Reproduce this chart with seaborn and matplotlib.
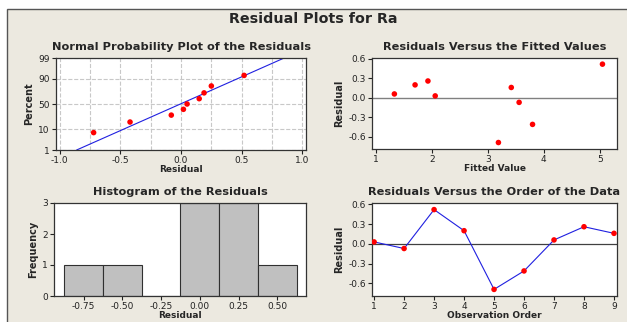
import matplotlib
matplotlib.use("Agg")
import matplotlib.pyplot as plt
import matplotlib.patches as patches
import seaborn as sns
import pandas as pd
from statistics import NormalDist

# ── data ──────────────────────────────────────────────────
order     = [1, 2, 3, 4, 5, 6, 7, 8, 9]
residuals = [0.03, -0.07, 0.52, 0.20, -0.69, -0.41, 0.06, 0.26, 0.16]
fitted    = [2.06, 3.56, 5.05, 1.70, 3.19, 3.80, 1.33, 1.93, 3.42]

prob_resid = [-0.72, -0.42, -0.08, 0.02, 0.05, 0.15, 0.19, 0.25, 0.52]
prob_pct   = [7.4, 18.1, 28.7, 39.4, 50.0, 60.6, 71.3, 81.9, 92.6]
line_resid = [-0.86, 0.85]
line_pct   = [1, 99]
pct_ticks  = [1, 10, 50, 90, 99]

hist_edges = [-0.875, -0.625, -0.375, -0.125, 0.125, 0.375, 0.625]
hist_ticks = [-0.75, -0.50, -0.25, 0.00, 0.25, 0.50]

sns.set_theme(style="white")
plt.rcParams['font.family'] = ['DejaVu Sans']
plt.rcParams['axes.unicode_minus'] = False

BG = '#ECE9E0'
z = lambda p: NormalDist().inv_cdf(p / 100.0)

fig = plt.figure(figsize=(6.27, 3.22), dpi=100, facecolor='white')
fig.patches.append(patches.Rectangle((7/627, -0.02), 1.0, (322-9)/322 + 0.02,
                                     transform=fig.transFigure, facecolor=BG,
                                     edgecolor='#555555', lw=1.0, zorder=-10))
fig.text(0.5, 0.94, 'Residual Plots for Ra', ha='center', va='center',
         fontsize=10.3, fontweight='bold')

W, H = 627, 322
def make_ax(l, t, r, b):
    return fig.add_axes([l/W, 1 - b/H, (r-l)/W, (b-t)/H])

ax1 = make_ax(56, 58, 306, 150)
ax2 = make_ax(372, 58, 617, 149)
ax3 = make_ax(54, 203, 306, 296)
ax4 = make_ax(372, 203, 617, 296)

def style(ax, title, xlabel, ylabel):
    ax.set_facecolor('white')
    for s in ax.spines.values():
        s.set_color('#333333'); s.set_linewidth(0.9)
    ax.tick_params(axis='both', which='both', direction='out', length=3, width=0.8,
                   labelsize=6.5, pad=1.5, colors='#222222', bottom=True, left=True)
    ax.set_title(title, fontsize=8.2, fontweight='bold', pad=6)
    ax.set_xlabel(xlabel, fontsize=6.5, fontweight='bold', labelpad=0)
    ax.set_ylabel(ylabel, fontsize=7, fontweight='bold', labelpad=3,
                  family=['Liberation Sans Narrow', 'DejaVu Sans Condensed', 'DejaVu Sans'])

# ── 1. normal probability plot ─────────────────────────────
npp = pd.DataFrame({'resid': prob_resid, 'z': [z(p) for p in prob_pct]})
for gx in [-1.0, -0.75, -0.5, -0.25, 0.0, 0.25, 0.5, 0.75, 1.0]:
    ax1.axvline(gx, color='#C8C8C8', ls='--', lw=0.8, zorder=0)
for p in pct_ticks:
    ax1.axhline(z(p), color='#C8C8C8', ls='--', lw=0.8, zorder=0)
sns.lineplot(x=line_resid, y=[z(p) for p in line_pct], ax=ax1, color='#2020E0', lw=0.8)
sns.scatterplot(data=npp, x='resid', y='z', ax=ax1, color='#FF0000', s=16,
                edgecolor='none', zorder=3)
ax1.set_xlim(-1.03, 1.03)
ax1.set_ylim(z(1), z(99))
ax1.set_yticks([z(p) for p in pct_ticks])
ax1.set_yticklabels([str(p) for p in pct_ticks])
ax1.set_xticks([-1.0, -0.5, 0.0, 0.5, 1.0])
ax1.set_xticklabels(['-1.0', '-0.5', '0.0', '0.5', '1.0'])
style(ax1, 'Normal Probability Plot of the Residuals', 'Residual', 'Percent')

# ── 2. residuals vs fitted ─────────────────────────────────
fv = pd.DataFrame({'fitted': fitted, 'resid': residuals})
ax2.axhline(0, color='#808080', lw=1.0, zorder=1)
sns.scatterplot(data=fv, x='fitted', y='resid', ax=ax2, color='#FF0000', s=16,
                edgecolor='none', zorder=3)
ax2.set_xlim(0.93, 5.31)
ax2.set_ylim(-0.79, 0.615)
ax2.set_xticks([1, 2, 3, 4, 5])
ax2.set_yticks([-0.6, -0.3, 0.0, 0.3, 0.6])
ax2.set_yticklabels(['-0.6', '-0.3', '0.0', '0.3', '0.6'])
style(ax2, 'Residuals Versus the Fitted Values', 'Fitted Value', 'Residual')

# ── 3. histogram ───────────────────────────────────────────
sns.histplot(x=residuals, bins=hist_edges, ax=ax3, color='#C0C0C0', alpha=1,
             edgecolor='#303030', linewidth=0.8)
ax3.set_xlim(-0.942, 0.686)
ax3.set_ylim(0, 3)
ax3.set_xticks(hist_ticks)
ax3.set_xticklabels([f'{t:.2f}' for t in hist_ticks])
ax3.set_yticks([0, 1, 2, 3])
style(ax3, 'Histogram of the Residuals', 'Residual', 'Frequency')

# ── 4. residuals vs order ──────────────────────────────────
ov = pd.DataFrame({'order': order, 'resid': residuals})
ax4.axhline(0, color='#404040', lw=0.9, zorder=1)
sns.lineplot(data=ov, x='order', y='resid', ax=ax4, color='#2020E0', lw=0.8)
sns.scatterplot(data=ov, x='order', y='resid', ax=ax4, color='#FF0000', s=16,
                edgecolor='none', zorder=3)
ax4.set_xlim(0.93, 9.1)
ax4.set_ylim(-0.79, 0.62)
ax4.set_xticks(order)
ax4.set_yticks([-0.6, -0.3, 0.0, 0.3, 0.6])
ax4.set_yticklabels(['-0.6', '-0.3', '0.0', '0.3', '0.6'])
style(ax4, 'Residuals Versus the Order of the Data', 'Observation Order', 'Residual')

fig.savefig('out.png', dpi=100, facecolor=fig.get_facecolor())
